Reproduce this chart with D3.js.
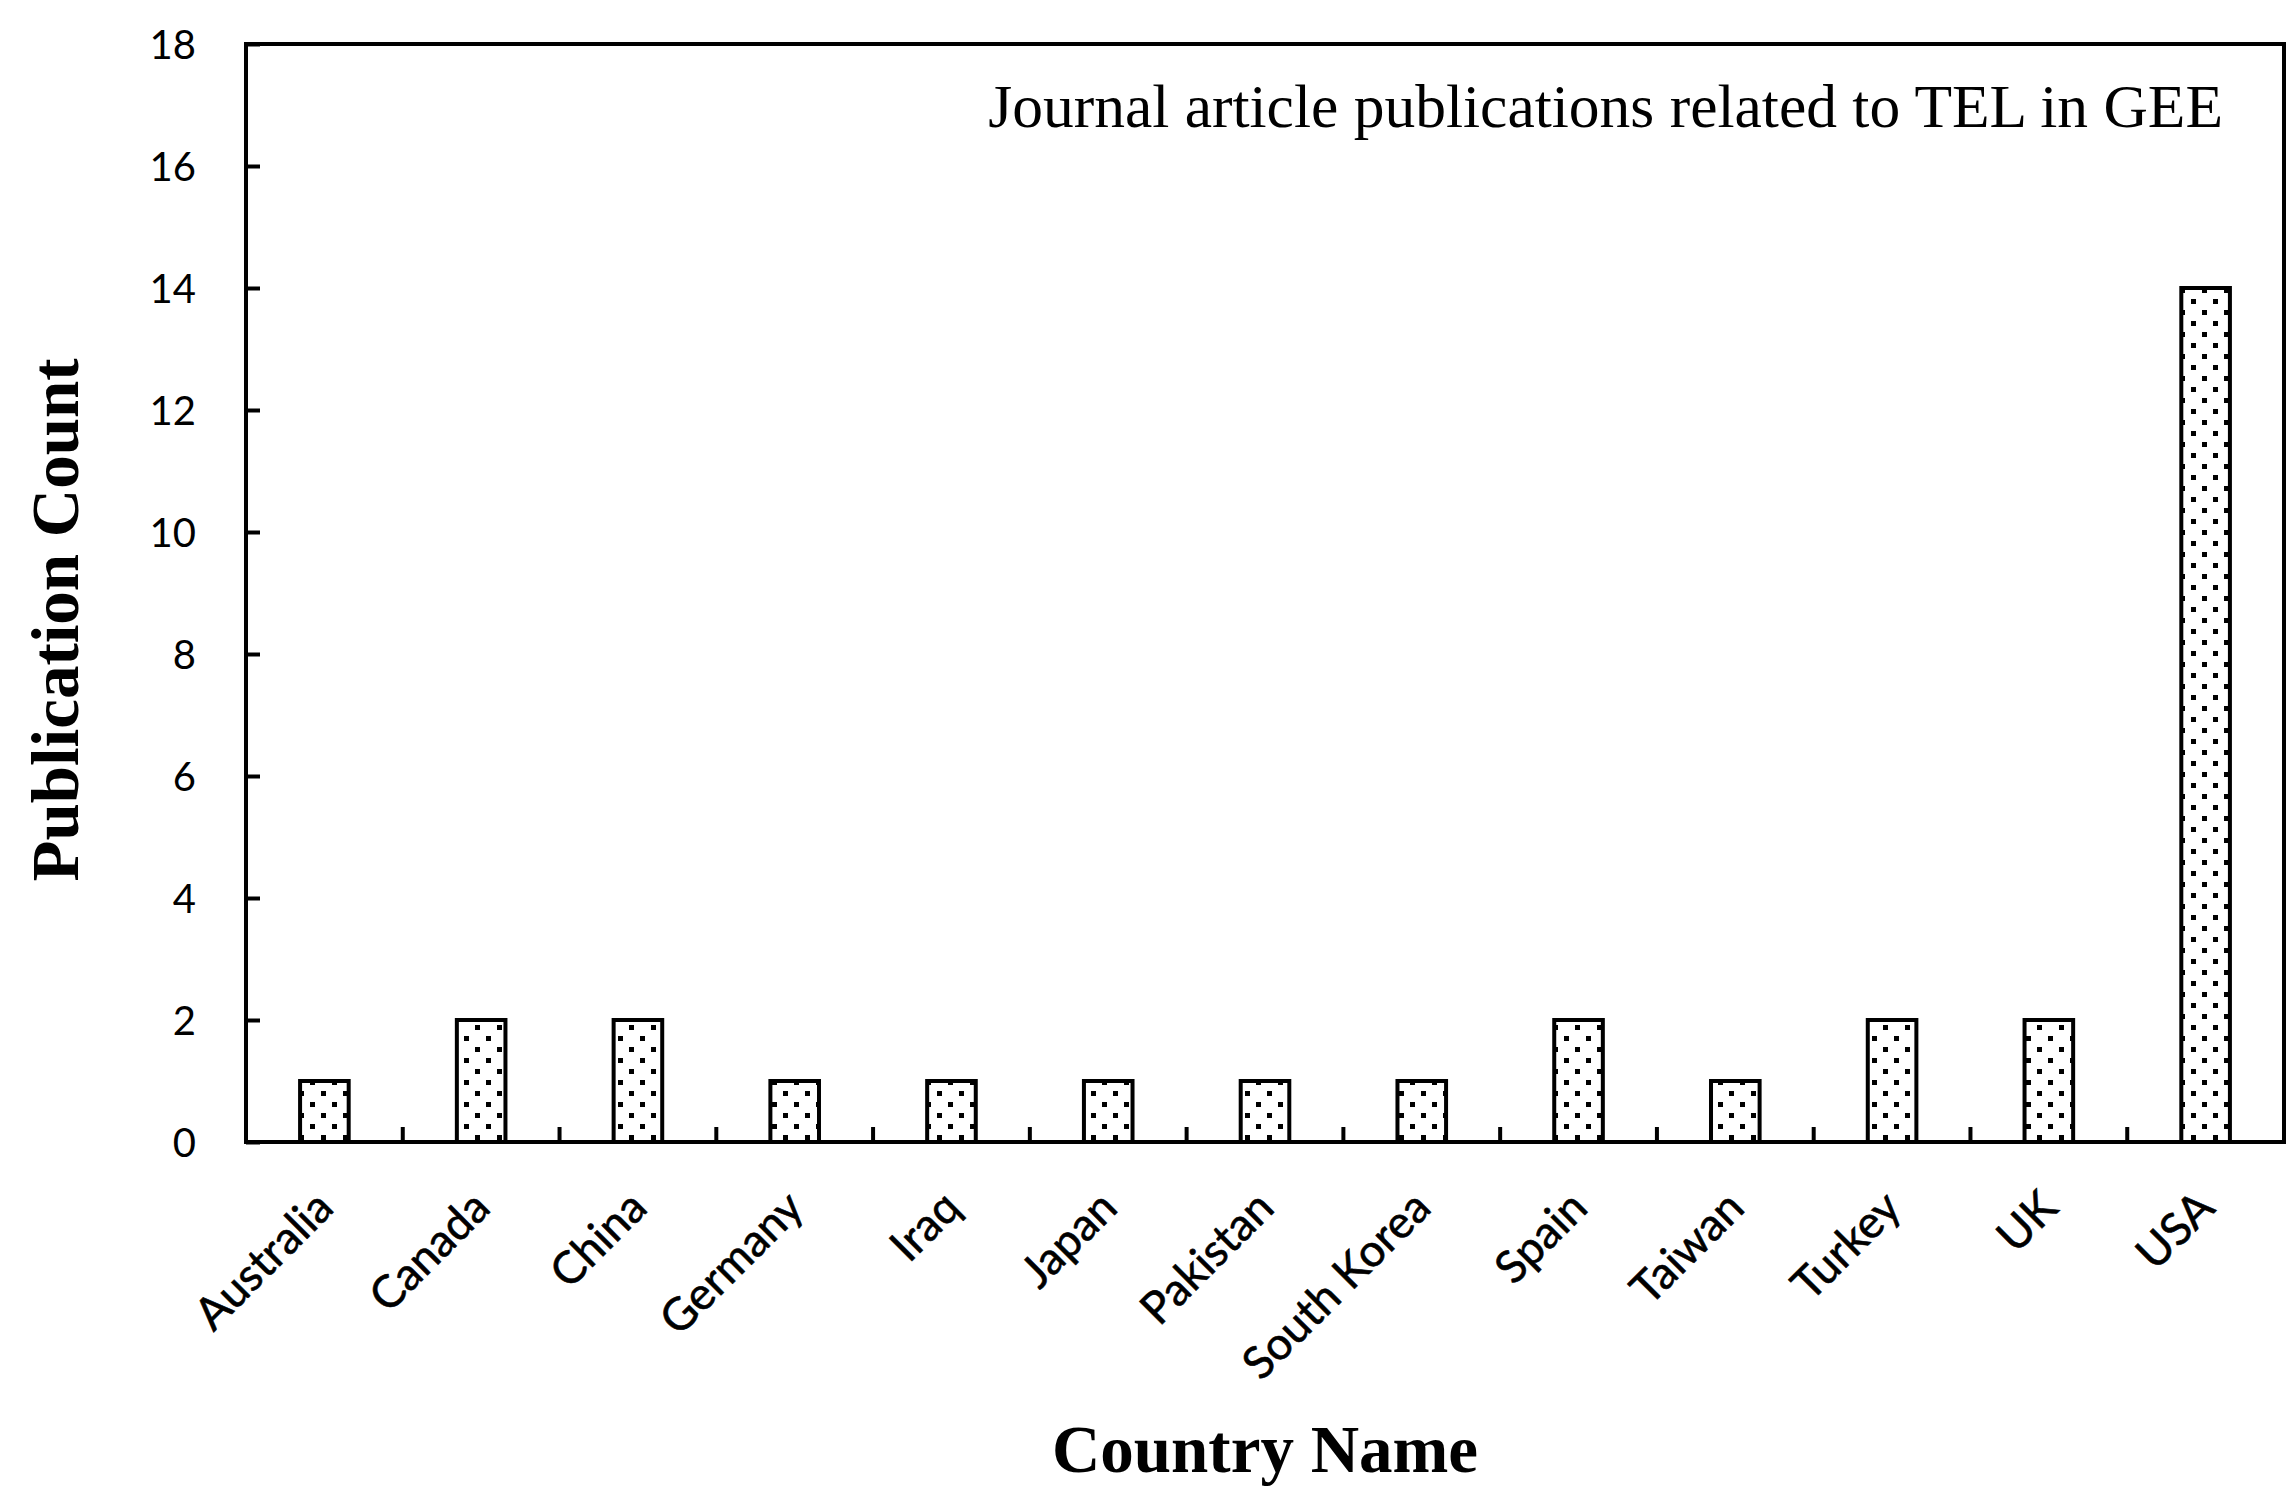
<!DOCTYPE html>
<html><head><meta charset="utf-8">
<script src="https://cdn.jsdelivr.net/npm/d3@7"></script>
<style>body{margin:0;background:#fff}svg{display:block}</style>
</head><body>
<script>
const categories = ["Australia","Canada","China","Germany","Iraq","Japan","Pakistan","South Korea","Spain","Taiwan","Turkey","UK","USA"];
const counts = [1,2,2,1,1,1,1,1,2,1,2,2,14];
const yTicks = [0,2,4,6,8,10,12,14,16,18];
const chartTitle = "Journal article publications related to TEL in GEE";
const xTitle = "Country Name";
const yTitle = "Publication Count";

const W = 2296, H = 1505;
const m = {l:246, r:2284, t:44, b:1142};
const svg = d3.select("body").append("svg").attr("width",W).attr("height",H);

const defs = svg.append("defs");
const pat = defs.append("pattern").attr("id","dots").attr("patternUnits","userSpaceOnUse")
  .attr("width",22).attr("height",22);
pat.append("rect").attr("width",22).attr("height",22).attr("fill","#fff");
pat.append("rect").attr("x",2).attr("y",2).attr("width",5).attr("height",5).attr("fill","#000");
pat.append("rect").attr("x",13).attr("y",13).attr("width",5).attr("height",5).attr("fill","#000");

const x = d3.scaleBand().domain(categories).range([m.l,m.r]).padding(0);
const y = d3.scaleLinear().domain([0,18]).range([m.b,m.t]);

// bars
const bw = x.bandwidth()*0.31;
svg.selectAll("rect.bar").data(categories).join("rect").attr("class","bar")
  .attr("x",d=>x(d)+x.bandwidth()/2-bw/2)
  .attr("y",(d,i)=>y(counts[i]))
  .attr("width",bw)
  .attr("height",(d,i)=>y(0)-y(counts[i]))
  .attr("fill","url(#dots)").attr("stroke","#000").attr("stroke-width",4);

// y axis ticks (inward)
const yAxis = d3.axisLeft(y).tickValues(yTicks).tickSize(-14).tickPadding(50).tickFormat(d3.format("d"));
const gy = svg.append("g").attr("transform",`translate(${m.l},0)`).call(yAxis);
gy.select(".domain").remove();
gy.selectAll("line").attr("stroke","#000").attr("stroke-width",4);
gy.selectAll("text").attr("font-family","Lato, 'Open Sans', sans-serif").attr("font-size",40).attr("fill","#000")
  .attr("dy","0.36em");

// x axis ticks at band boundaries (inward)
const bounds = categories.slice(1).map(c=>x(c));
svg.append("g").selectAll("line").data(bounds).join("line")
  .attr("x1",d=>d).attr("x2",d=>d).attr("y1",m.b).attr("y2",m.b-15)
  .attr("stroke","#000").attr("stroke-width",4);

// x labels
svg.append("g").selectAll("text").data(categories).join("text")
  .attr("transform",d=>`translate(${x(d)+x.bandwidth()/2-11},${m.b+46}) rotate(-45)`)
  .attr("text-anchor","end").attr("dy","0.7em")
  .attr("font-family","Lato, 'Open Sans', sans-serif").attr("font-size",45).attr("fill","#000")
  .attr("stroke","#000").attr("stroke-width",0.6)
  .text(d=>d);

// frame
svg.append("rect").attr("x",m.l).attr("y",m.t).attr("width",m.r-m.l).attr("height",m.b-m.t)
  .attr("fill","none").attr("stroke","#000").attr("stroke-width",4);

// title inside
svg.append("text").attr("x",2223).attr("y",127).attr("text-anchor","end")
  .attr("font-family","'Liberation Serif', 'Times New Roman', serif").attr("font-size",61.5).attr("fill","#000")
  .text(chartTitle);

svg.append("text").attr("x",(m.l+m.r)/2).attr("y",1472).attr("text-anchor","middle")
  .attr("font-family","'Liberation Serif', 'Times New Roman', serif").attr("font-weight","bold").attr("font-size",67)
  .text(xTitle);

svg.append("text").attr("transform","translate(78,620) rotate(-90)").attr("text-anchor","middle")
  .attr("font-family","'Liberation Serif', 'Times New Roman', serif").attr("font-weight","bold").attr("font-size",67)
  .text(yTitle);
</script>
</body></html>
